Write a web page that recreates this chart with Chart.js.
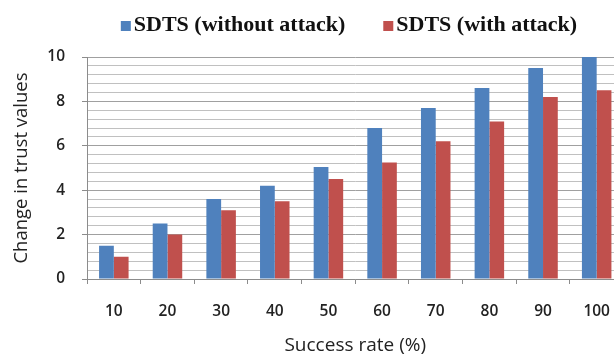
<!DOCTYPE html>
<html>
<head>
<meta charset="utf-8">
<script src="https://cdn.jsdelivr.net/npm/chart.js@4/dist/chart.umd.min.js"></script>
<style>
  html, body { margin: 0; padding: 0; background: #fff; }
  #wrap { width: 614px; height: 360px; overflow: hidden; position: relative; }
  canvas { display: block; }
</style>
</head>
<body>
<div id="wrap"><canvas id="chart" width="640" height="360"></canvas></div>
<script>
// Success rate categories (%)
const categories = ['10', '20', '30', '40', '50', '60', '70', '80', '90', '100'];
// Change in trust values for each scheme
const withoutAttack = [1.5, 2.5, 3.6, 4.2, 5.05, 6.8, 7.7, 8.6, 9.5, 10];
const withAttack = [1.0, 2.0, 3.1, 3.5, 4.5, 5.25, 6.2, 7.1, 8.2, 8.5];
// Labelled ticks on the value axis
const yTickLabels = [0, 2, 4, 6, 8, 10];

const BLUE = '#4F81BD';
const RED = '#C0504D';

function isMajor(v) {
  return yTickLabels.some(t => Math.abs(t - v) < 1e-6);
}

// Legend drawn above the plot: small square swatch, bold serif label
const topLegend = {
  id: 'topLegend',
  afterDraw(chart) {
    const ctx = chart.ctx;
    const box = 10, gap = 3, spacing = 38, centerX = 349, y = 25;
    ctx.save();
    ctx.font = 'bold 22px "Liberation Serif", "Times New Roman", serif';
    ctx.textBaseline = 'middle';
    const items = chart.data.datasets.map(ds => ({
      text: ds.label, color: ds.backgroundColor, w: ctx.measureText(ds.label).width
    }));
    let total = items.reduce((s, it) => s + box + gap + it.w, 0) + spacing * (items.length - 1);
    let x = centerX - total / 2;
    items.forEach(it => {
      ctx.fillStyle = it.color;
      ctx.fillRect(x, y - box / 2 + 1, box, box);
      x += box + gap;
      ctx.fillStyle = '#111';
      ctx.fillText(it.text, x, y);
      x += it.w + spacing;
    });
    ctx.restore();
  }
};

new Chart(document.getElementById('chart'), {
  type: 'bar',
  data: {
    labels: categories,
    datasets: [
      { label: 'SDTS (without attack)', data: withoutAttack, backgroundColor: BLUE, borderWidth: 0 },
      { label: 'SDTS (with attack)', data: withAttack, backgroundColor: RED, borderWidth: 0 }
    ]
  },
  options: {
    responsive: false,
    animation: false,
    devicePixelRatio: 1,
    layout: { padding: { top: 57, right: 16.5, left: 0, bottom: 0 } },
    datasets: { bar: { barPercentage: 1.0, categoryPercentage: 0.55 } },
    plugins: { legend: { display: false }, tooltip: { enabled: false } },
    scales: {
      x: {
        afterFit(scale) { scale.height = 81; },
        grid: { display: true, drawOnChartArea: false, offset: true, tickLength: 5, color: '#8c8c8c' },
        border: { color: '#8c8c8c' },
        ticks: {
          color: '#222', padding: 18,
          font: { family: '"Open Sans", sans-serif', size: 15.5, weight: '600' }
        },
        title: {
          display: true, text: 'Success rate (%)', color: '#222',
          font: { family: '"Open Sans", sans-serif', size: 19 },
          padding: { top: 4, bottom: 3 }
        }
      },
      y: {
        min: 0, max: 10,
        afterFit(scale) { scale.width = 87; },
        grid: {
          color: c => (c.tick && isMajor(c.tick.value)) ? '#a0a0a0' : '#c0c0c0',
          tickColor: c => (c.tick && isMajor(c.tick.value)) ? '#8c8c8c' : 'rgba(0,0,0,0)',
          tickLength: 5
        },
        border: { color: '#8c8c8c' },
        ticks: {
          stepSize: 0.4, autoSkip: false, color: '#222', padding: 17,
          font: { family: '"Open Sans", sans-serif', size: 15.5, weight: '600' },
          callback: v => isMajor(v) ? String(Math.round(v)) : ''
        },
        title: {
          display: true, text: 'Change in trust values', color: '#222',
          font: { family: '"Open Sans", sans-serif', size: 18.5 },
          padding: { top: 11, bottom: 2 }
        }
      }
    }
  },
  plugins: [topLegend]
});
</script>
</body>
</html>
